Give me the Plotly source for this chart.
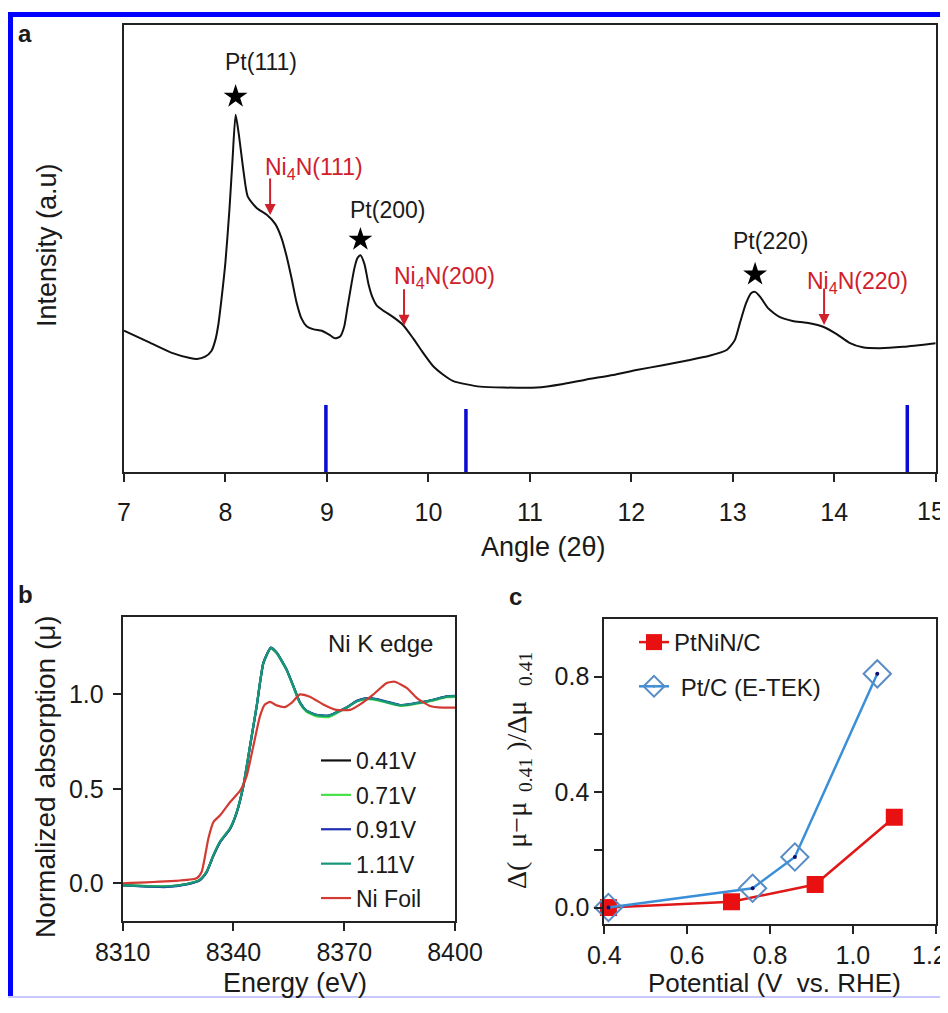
import plotly.graph_objects as go

# page is 948x1013; the html body adds an 8px margin on every side, so the figure is
# kept a little smaller than the window to avoid page scrollbars
OFF = 8
W, H = 948 - OFF, 990

def fx(px):
    return (px - OFF) / W

def fy(py):
    return 1 - (py - OFF) / H

NB = "\u00a0"

# ---------------- Panel a: XRD ----------------
xrd_angle = [7.00, 7.26, 7.48, 7.65, 7.72, 7.80, 7.86, 7.90, 7.93, 7.96, 8.00, 8.04, 8.07, 8.10,
             8.13, 8.18, 8.22, 8.31, 8.41, 8.49, 8.55, 8.60, 8.65, 8.70, 8.75, 8.80, 8.87, 8.95,
             9.03, 9.08, 9.13, 9.17, 9.20, 9.23, 9.27, 9.30, 9.33, 9.37, 9.41, 9.45, 9.49, 9.55,
             9.65, 9.75, 9.85, 9.95, 10.05, 10.15, 10.24, 10.38, 10.51, 10.74, 11.07, 11.33,
             11.56, 11.82, 12.05, 12.31, 12.54, 12.77, 12.94, 13.02, 13.07, 13.13, 13.18,
             13.22, 13.27, 13.35, 13.46, 13.59, 13.73, 13.89, 14.02, 14.15, 14.28, 14.45,
             14.68, 15.00]
xrd_intensity = [31.6, 28.9, 26.6, 25.5, 25.3, 25.8, 27.0, 29.5, 33.0, 38.5, 47.0, 59.0, 70.0, 79.9,
                 75.8, 66.9, 61.6, 59.0, 57.5, 55.5, 52.5, 48.5, 43.5, 38.0, 34.3, 32.6, 31.9, 31.6,
                 30.6, 29.9, 30.3, 32.5, 36.5, 40.5, 45.5, 47.8, 48.5, 46.5, 42.0, 39.0, 37.3, 36.2,
                 34.7, 32.9, 29.9, 26.6, 23.6, 21.7, 20.4, 19.6, 19.1, 18.9, 18.9, 19.7,
                 20.7, 21.7, 22.8, 23.9, 24.9, 26.0, 27.3, 29.5, 33.3, 37.7, 40.0,
                 40.3, 39.2, 36.6, 34.7, 33.8, 33.4, 32.5, 30.9, 28.9, 27.9, 27.7,
                 28.0, 28.8]

ref_angle = [8.99, 10.37, 14.72]
ref_height = [15.0, 14.1, 15.0]

pt_peak_x = [8.10, 9.33, 13.22]
pt_star_y = [84.0, 52.0, 44.2]
pt_labels = ["Pt(111)", "Pt(200)", "Pt(220)"]
pt_label_x = [8.35, 9.60, 13.37]
pt_label_y = [91.7, 58.6, 51.7]

ni_arrow_x = [8.44, 9.76, 13.90]
ni_arrow_y = [57.5, 32.7, 32.9]
ni_labels = ["Ni<sub>4</sub>N(111)", "Ni<sub>4</sub>N(200)", "Ni<sub>4</sub>N(220)"]
ni_label_x = [8.87, 10.16, 14.23]
ni_label_y = [68.0, 43.5, 42.4]

xrd_ticks = [7, 8, 9, 10, 11, 12, 13, 14, 15]
xrd_ticktext = ["7", "8", "9", "10", "11", "12", "13", "14", "15"]

# ---------------- Panel b: XANES ----------------
energy = [8310.0, 8321.9, 8327.3, 8330.9, 8332.7, 8334.6, 8336.4, 8339.1, 8340.9, 8342.7,
          8344.5, 8346.3, 8348.1, 8350.1, 8351.7, 8354.4, 8356.2, 8358.0, 8359.8, 8362.5,
          8365.7, 8367.9, 8370.7, 8373.4, 8376.1, 8378.8, 8381.5, 8385.1, 8387.8, 8390.5,
          8394.1, 8397.7, 8401.3]
mu_041 = [-0.010, -0.018, -0.005, 0.018, 0.060, 0.150, 0.220, 0.290, 0.377, 0.518,
          0.728, 0.940, 1.167, 1.246, 1.220, 1.130, 1.044, 0.956, 0.912, 0.890,
          0.886, 0.904, 0.930, 0.965, 0.979, 0.974, 0.960, 0.942, 0.947, 0.956,
          0.970, 0.988, 0.990]
mu_071 = [-0.010, -0.016, -0.004, 0.017, 0.058, 0.148, 0.222, 0.292, 0.379, 0.520,
          0.730, 0.942, 1.165, 1.244, 1.218, 1.128, 1.040, 0.952, 0.908, 0.884,
          0.880, 0.900, 0.930, 0.962, 0.975, 0.970, 0.956, 0.940, 0.945, 0.954,
          0.968, 0.985, 0.988]
mu_091 = [-0.012, -0.020, -0.006, 0.016, 0.056, 0.146, 0.218, 0.288, 0.375, 0.516,
          0.726, 0.938, 1.166, 1.248, 1.222, 1.132, 1.046, 0.958, 0.914, 0.892,
          0.888, 0.906, 0.932, 0.966, 0.980, 0.975, 0.962, 0.944, 0.949, 0.958,
          0.972, 0.990, 0.992]
mu_111 = [-0.011, -0.017, -0.005, 0.018, 0.059, 0.149, 0.221, 0.291, 0.378, 0.519,
          0.729, 0.941, 1.168, 1.247, 1.221, 1.131, 1.045, 0.957, 0.913, 0.891,
          0.887, 0.905, 0.931, 0.964, 0.978, 0.973, 0.959, 0.943, 0.948, 0.957,
          0.971, 0.989, 0.991]

energy_foil = [8310.0, 8330.0, 8331.4, 8333.2, 8334.6, 8336.4, 8339.1, 8341.8, 8343.6, 8345.4,
               8347.2, 8348.5, 8349.9, 8351.7, 8353.9, 8355.8, 8358.0, 8360.7, 8364.3, 8367.9,
               8371.6, 8374.3, 8377.9, 8381.5, 8383.7, 8386.9, 8389.6, 8393.2, 8396.8, 8401.8]
mu_foil = [0.000, 0.026, 0.061, 0.237, 0.325, 0.360, 0.430, 0.490, 0.570, 0.728,
           0.886, 0.947, 0.960, 0.942, 0.933, 0.956, 1.000, 0.988, 0.947, 0.918,
           0.918, 0.947, 1.000, 1.061, 1.067, 1.035, 0.982, 0.939, 0.930, 0.930]

xanes_names = ["0.41V", "0.71V", "0.91V", "1.11V", "Ni Foil"]
xanes_colors = ["#111111", "#44e044", "#1f2fb0", "#17977a", "#d23a32"]

# ---------------- Panel c ----------------
potential_ptnin = [0.41, 0.707, 0.909, 1.10]
delta_ptnin = [0.0, 0.02, 0.08, 0.313]
potential_ptc = [0.41, 0.758, 0.86, 1.059]
delta_ptc = [0.0, 0.067, 0.175, 0.81]

c_xticks = [0.4, 0.6, 0.8, 1.0, 1.2]
c_xticktext = ["0.4", "0.6", "0.8", "1.0", "1.2"]

TXT = "#1a1a1a"
AX = "#222222"
RED = "#d0202c"
FONT = "Liberation Sans, Arial, sans-serif"
SERIF = "Liberation Serif, Times New Roman, serif"

fig = go.Figure()

# Panel a traces
fig.add_trace(go.Scatter(x=xrd_angle, y=xrd_intensity, mode="lines",
                         line=dict(color="#111111", width=2, shape="spline", smoothing=0.6),
                         showlegend=False, xaxis="x", yaxis="y"))
for xa, hh in zip(ref_angle, ref_height):
    fig.add_trace(go.Scatter(x=[xa, xa], y=[0, hh], mode="lines",
                             line=dict(color="#0a0ad2", width=3.5),
                             showlegend=False, xaxis="x", yaxis="y"))
fig.add_trace(go.Scatter(x=pt_peak_x, y=pt_star_y, mode="markers",
                         marker=dict(symbol="star", size=18, color="#000000"),
                         showlegend=False, xaxis="x", yaxis="y"))

annotations = []
for lx, ly, lt in zip(pt_label_x, pt_label_y, pt_labels):
    annotations.append(dict(x=lx, y=ly, xref="x", yref="y", text=lt, showarrow=False,
                            xanchor="center", yanchor="middle",
                            font=dict(size=23, color=TXT, family=FONT)))
for lx, ly, lt in zip(ni_label_x, ni_label_y, ni_labels):
    annotations.append(dict(x=lx, y=ly, xref="x", yref="y", text=lt, showarrow=False,
                            xanchor="center", yanchor="middle",
                            font=dict(size=23, color=RED, family=FONT)))
for ax_, ay_ in zip(ni_arrow_x, ni_arrow_y):
    annotations.append(dict(x=ax_, y=ay_, xref="x", yref="y", text="", showarrow=True,
                            ax=0, ay=-38, arrowhead=2, arrowsize=1.1, arrowwidth=2,
                            arrowcolor=RED))

# Panel b traces
ys_b = [mu_041, mu_071, mu_091, mu_111]
for i, (name, col, yy) in enumerate(zip(xanes_names[:4], xanes_colors[:4], ys_b)):
    fig.add_trace(go.Scatter(x=energy, y=yy, mode="lines", name=name,
                             line=dict(color=col, width=2.2, shape="spline", smoothing=0.5),
                             xaxis="x2", yaxis="y2", legend="legend", legendgroup="b%d" % i))
fig.add_trace(go.Scatter(x=energy_foil, y=mu_foil, mode="lines", name=xanes_names[4],
                         line=dict(color=xanes_colors[4], width=2.2, shape="spline", smoothing=0.5),
                         xaxis="x2", yaxis="y2", legend="legend", legendgroup="b4"))

# Panel c traces
fig.add_trace(go.Scatter(x=potential_ptnin, y=delta_ptnin, mode="lines+markers", name="PtNiN/C",
                         line=dict(color="#e01818", width=2.5),
                         marker=dict(symbol="square", size=17, color="#e81010"),
                         cliponaxis=False, xaxis="x3", yaxis="y3", legend="legend2",
                         legendgroup="g1"))
fig.add_trace(go.Scatter(x=potential_ptc, y=delta_ptc, mode="lines+markers", name=" Pt/C (E-TEK)",
                         line=dict(color="#3a8fd8", width=2.5),
                         marker=dict(symbol="diamond-open-dot", size=21, color="#5a8cc4",
                                     line=dict(width=2)),
                         cliponaxis=False, xaxis="x3", yaxis="y3", legend="legend2",
                         legendgroup="g2"))
fig.add_trace(go.Scatter(x=potential_ptc, y=delta_ptc, mode="markers",
                         marker=dict(symbol="circle", size=4, color="#101070"),
                         cliponaxis=False, showlegend=False, xaxis="x3", yaxis="y3"))


def pann(px, py, text, size, angle=0, family=FONT):
    return dict(x=fx(px), y=fy(py), xref="paper", yref="paper", text=text, showarrow=False,
                xanchor="center", yanchor="middle", textangle=angle,
                font=dict(size=size, color=TXT, family=family))


annotations += [
    pann(25, 34, "<b>a</b>", 24),
    pann(25, 594, "<b>b</b>", 24),
    pann(515, 596, "<b>c</b>", 24),
    pann(47, 245, "Intensity (a.u)", 27, -90),
    pann(543, 547, "Angle (2θ)", 27),
    pann(45, 777, "Normalized absorption (μ)", 28, -90),
    pann(295, 983, "Energy (eV)", 27),
    pann(380, 643, "Ni K edge", 24),
    pann(774, 983, "Potential (V" + NB + " vs. RHE)", 26),
    pann(518, 770, "Δ(" + NB + " μ−μ<sub>" + NB + NB + "0.41</sub>" + NB + ")/Δμ<sub>" + NB + NB
         + NB + "0.41</sub>", 28, -90, SERIF),
    # last tick labels at the right page edge, nudged inwards so they stay whole
    dict(x=xrd_ticks[-1], xref="x", y=fy(511), yref="paper", text=xrd_ticktext[-1],
         showarrow=False, xanchor="center", yanchor="middle", xshift=-5,
         font=dict(size=25, color=TXT, family=FONT)),
    dict(x=c_xticks[-1], xref="x3", y=fy(955), yref="paper", text=c_xticktext[-1],
         showarrow=False, xanchor="center", yanchor="middle", xshift=-6,
         font=dict(size=25, color=TXT, family=FONT)),
]

# Border shapes
shapes = [
    dict(type="rect", xref="paper", yref="paper", x0=fx(8), x1=fx(13), y0=0, y1=fy(12),
         fillcolor="#0000ff", line=dict(width=0)),
    dict(type="rect", xref="paper", yref="paper", x0=fx(8), x1=1, y0=fy(17), y1=fy(12),
         fillcolor="#0000ff", line=dict(width=0)),
    dict(type="rect", xref="paper", yref="paper", x0=fx(8), x1=1, y0=0, y1=fy(996),
         fillcolor="#c8c8ff", line=dict(width=0)),
]

axis_common = dict(showline=True, mirror=True, linecolor=AX, linewidth=2, showgrid=False,
                   zeroline=False, ticks="outside", ticklen=8, tickwidth=2, tickcolor=AX,
                   automargin=False, ticklabeloverflow="allow",
                   tickfont=dict(size=25, color=TXT, family=FONT))

fig.update_layout(
    template="none",
    width=W, height=H, autosize=False,
    margin=dict(l=0, r=0, t=0, b=0, pad=0),
    paper_bgcolor="white", plot_bgcolor="white",
    font=dict(family=FONT, color=TXT),
    xaxis=dict(domain=[fx(124), fx(935.7)], range=[7, 15], tickvals=xrd_ticks,
               ticktext=xrd_ticktext[:-1] + [" "], anchor="y", ticklabelstandoff=9,
               **axis_common),
    yaxis=dict(domain=[fy(472), fy(25)], range=[0, 100], anchor="x", showline=True, mirror=True,
               linecolor=AX, linewidth=2, showgrid=False, zeroline=False, ticks="",
               showticklabels=False, automargin=False),
    xaxis2=dict(domain=[fx(122.7), fx(455)], range=[8310, 8400],
                tickvals=[8310, 8340, 8370, 8400], anchor="y2", **axis_common),
    yaxis2=dict(domain=[fy(921), fy(617)], range=[-0.2, 1.41], tickvals=[0, 0.5, 1.0],
                ticktext=["0.0", "0.5", "1.0"], anchor="x2", ticklabelstandoff=4, **axis_common),
    xaxis3=dict(domain=[fx(604.3), fx(935.7)], range=[0.4, 1.2],
                tickvals=c_xticks, ticktext=c_xticktext[:-1] + [" "], anchor="y3",
                **axis_common),
    yaxis3=dict(domain=[fy(924), fy(619)], range=[-0.057, 1.0],
                tickvals=[0, 0.2, 0.4, 0.6, 0.8], ticktext=["0.0", " ", "0.4", " ", "0.8"],
                anchor="x3", **axis_common),
    legend=dict(x=fx(316), y=fy(739), xanchor="left", yanchor="top",
                bgcolor="rgba(0,0,0,0)", font=dict(size=23, color=TXT, family=FONT),
                tracegroupgap=1.5),
    legend2=dict(x=fx(634), y=fy(620), xanchor="left", yanchor="top",
                 bgcolor="rgba(0,0,0,0)", font=dict(size=24, color=TXT, family=FONT),
                 tracegroupgap=10),
    annotations=annotations,
    shapes=shapes,
)

fig.write_html("out.html")
